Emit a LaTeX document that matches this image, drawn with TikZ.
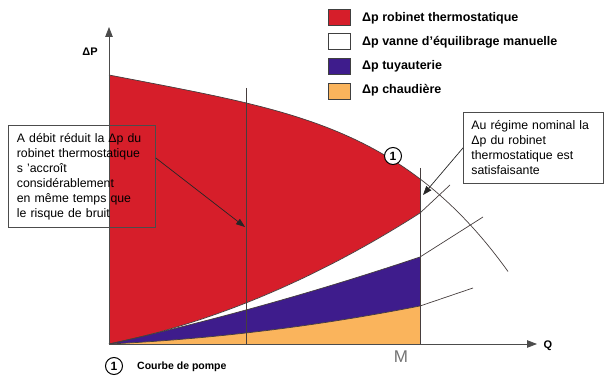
\documentclass[tikz,border=0pt]{standalone}
\usepackage{fontspec}
\setmainfont{Liberation Sans}
\usetikzlibrary{arrows.meta}
\definecolor{redc}{RGB}{214,30,42}
\definecolor{purplec}{RGB}{62,28,140}
\definecolor{orangec}{RGB}{250,180,92}
\definecolor{linec}{RGB}{70,62,62}
\tikzset{
  declare function={
    tt(\x)=(\x-109)/311;
    pump(\x)=75+59.6*tt(\x)+44.3*tt(\x)^4;
    rw(\x)=344-(63.5*tt(\x)+67.5*tt(\x)^2);
    wp(\x)=344-(69.6*tt(\x)+17.4*tt(\x)^2);
    po(\x)=344-(14.8*tt(\x)+23.2*tt(\x)^2);
  },
  curve/.style={draw=linec, line width=0.7pt},
  swatch/.style={draw=black!75, line width=0.7pt, minimum width=22pt, minimum height=16pt, inner sep=0pt},
  legtext/.style={anchor=west, font=\bfseries\fontsize{12.5}{14}\selectfont, inner sep=0pt},
  notebox/.style={draw=black!70, line width=0.8pt, align=left, anchor=north west,
    font=\fontsize{12.3}{15}\selectfont, inner ysep=4pt},
  numcirc/.style={circle, draw=black, line width=1pt, inner sep=0pt, minimum size=17pt,
    font=\bfseries\fontsize{12}{12}\selectfont},
  axislabel/.style={font=\bfseries\fontsize{11}{11}\selectfont, inner sep=0pt},
  pointer/.style={draw=black!85, line width=0.7pt, -{Triangle[length=9pt,width=6.5pt]}},
  axis/.style={draw=black!70, line width=0.8pt, -{Triangle[length=10pt,width=7.5pt]}},
}
\begin{document}
\begin{tikzpicture}[x=1pt,y=-1pt]
\useasboundingbox (0,0) rectangle (605,379);
% filled areas
\fill[redc] (109,344) -- plot[domain=109:420,samples=80] (\x,{pump(\x)}) -- (420,344) -- cycle;
\fill[white] (109,344) -- plot[domain=109:420,samples=80] (\x,{rw(\x)}) -- (420,344) -- cycle;
\fill[purplec] (109,344) -- plot[domain=109:420,samples=80] (\x,{wp(\x)}) -- (420,344) -- cycle;
\fill[orangec] (109,344) -- plot[domain=109:420,samples=80] (\x,{po(\x)}) -- (420,344) -- cycle;
% curves
\draw[curve] plot[domain=109:508,samples=100] (\x,{pump(\x)});
\draw[curve] plot[domain=109:420,samples=80] (\x,{rw(\x)}) -- (450,185);
\draw[curve] plot[domain=109:420,samples=80] (\x,{wp(\x)}) -- (483,217);
\draw[curve] plot[domain=109:420,samples=80] (\x,{po(\x)}) -- (473,288);
% vertical lines
\draw[curve] (420,168) -- (420,344);
\draw[curve] (246,88) -- (246,344);
% axes
\coordinate (O) at (109,344);
\coordinate (ytip) at (109,27);
\coordinate (xtip) at (537,344);
\draw[axis] (O) -- (ytip);
\draw[axis] (O) -- (xtip);
\node[axislabel] (dP) at (90,52) {ΔP};
\node[axislabel] (Q) at (548,346) {Q};
% legend
\node[swatch, fill=redc] (sw1) at (339,17) {};
\node[swatch, fill=white] (sw2) at (339,41) {};
\node[swatch, fill=purplec] (sw3) at (339,66) {};
\node[swatch, fill=orangec] (sw4) at (339,91) {};
\node[legtext] (lg1) at (362,18) {Δp robinet thermostatique};
\node[legtext] (lg2) at (362,42) {Δp vanne d'équilibrage manuelle};
\node[legtext] (lg3) at (362,66) {Δp tuyauterie};
\node[legtext] (lg4) at (362,90) {Δp chaudière};
% note boxes
\node[notebox, text width=130pt, inner xsep=8.5pt, minimum height=102pt] (lbox) at (8,125)
  {A débit réduit la Δp du\\robinet thermostatique\\s 'accroît\\considérablement\\en même temps que\\le risque de bruit};
\node[notebox, text width=124pt, inner xsep=8pt, minimum height=71pt] (rbox) at (463,112)
  {Au régime nominal la\\Δp du robinet\\thermostatique est\\satisfaisante};
\coordinate (tipL) at (245,227);
\coordinate (tipR) at (423,195);
\draw[pointer] (lbox.14.5) -- (tipL);
\draw[pointer] (rbox.west) -- (tipR);
% numbered circles
\node[numcirc, fill=white] (c1) at (393,156) {1};
\node[numcirc] (c2) at (114,366) {1};
\node[anchor=west, font=\bfseries\fontsize{10.5}{12}\selectfont, inner sep=0pt] (cp) at (137,367) {Courbe de pompe};
\node[text=black!55, font=\fontsize{17}{17}\selectfont] (hm) at (401,357) {M};
\end{tikzpicture}
\end{document}
